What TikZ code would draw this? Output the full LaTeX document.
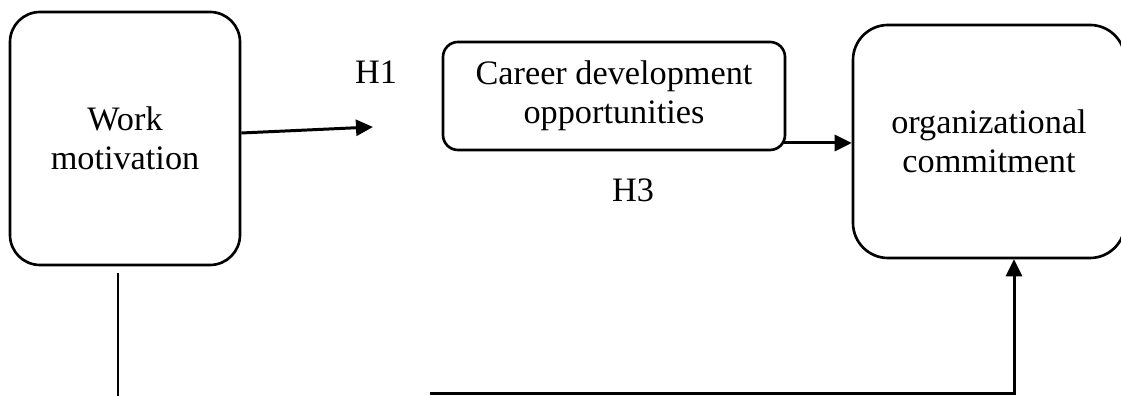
\documentclass[tikz,border=0pt]{standalone}
\usepackage{fontspec}
\setmainfont{Liberation Serif}
\usetikzlibrary{arrows.meta}
\tikzstyle{block}=[draw, line width=1.5pt, align=center, inner sep=0pt, font=\fontsize{19.5}{22.5}\selectfont]
\tikzstyle{label}=[font=\fontsize{19.5}{22.5}\selectfont]
\tikzstyle{line}=[line width=1.7pt]
\tikzstyle{link}=[line width=1.7pt, -{Triangle[length=0.34cm, width=0.32cm]}]

\begin{document}
\begin{tikzpicture}
    \useasboundingbox (0,0) rectangle (22.42,7.92);
    \node [block, rounded corners=0.6cm, minimum width=4.6cm, minimum height=5.06cm] (wm) at (2.5,5.15) {Work\\motivation};
    \node [block, rounded corners=0.3cm, minimum width=6.84cm, minimum height=2.16cm] (cd) at (12.28,6.0) {Career development\\opportunities};
    \node [block, rounded corners=0.7cm, minimum width=5.44cm, minimum height=4.66cm] (oc) at (19.78,5.09) {organizational\\commitment};
    \node [label] (h1) at (7.52,6.48) {H1};
    \node [label] (h3) at (12.66,4.12) {H3};
    \coordinate (h1end) at (7.46,5.38);
    \coordinate (wmfoot) at (2.36,0);
    \coordinate (gap) at (8.6,0.05);
    \coordinate (turn) at ([xshift=0.5cm]oc.south);
    \draw [link] ([yshift=0.11cm]wm.east) -- (h1end);
    \draw [link] ([xshift=-0.05cm, yshift=-0.94cm]cd.east) -- ([yshift=-0.94cm]cd.east -| oc.west);
    \draw [line] ([xshift=-0.14cm, yshift=-0.14cm]wm.south) -- (wmfoot);
    \draw [link] (gap) -- (gap -| turn) -- (turn);
\end{tikzpicture}
\end{document}
